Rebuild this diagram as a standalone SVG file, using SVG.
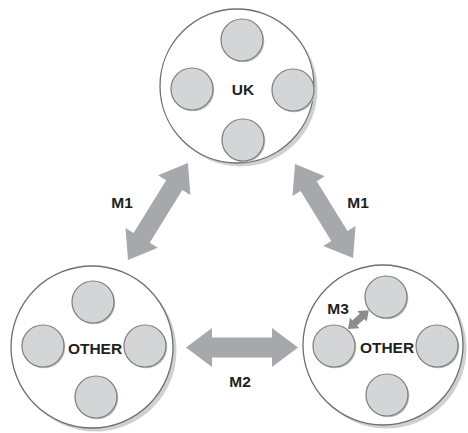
<svg xmlns="http://www.w3.org/2000/svg" width="468" height="433" viewBox="0 0 468 433">
<style>
.shadow{fill:#cfd0d1}
.big{fill:#ffffff;stroke:#6d6e70;stroke-width:1.3}
.sshadow{fill:#c4c5c7}
.small{fill:#d4d5d6;stroke:#7a7b7d;stroke-width:1.2}
.arrow{fill:#a6a8ab}
.arrow3{fill:#8a8c8f}
text{font-family:"Liberation Sans",Arial,sans-serif;font-weight:bold;font-size:15.5px;fill:#231f20;text-anchor:middle}
</style>
<defs>
<g id="sm">
<circle class="sshadow" cx="1.3" cy="1.3" r="21"/>
<circle class="small" cx="0" cy="0" r="21"/>
</g>
</defs>
<g id="node-uk">
<circle class="shadow" cx="240.5" cy="89.5" r="77"/>
<circle class="big" cx="237" cy="86" r="77"/>
<use href="#sm" x="242" y="40"/>
<use href="#sm" x="192" y="89"/>
<use href="#sm" x="293" y="90"/>
<use href="#sm" x="243" y="140"/>
<text x="243" y="95">UK</text>
</g>
<g id="node-other-left">
<circle class="shadow" cx="95.5" cy="350.5" r="81"/>
<circle class="big" cx="92" cy="347" r="81"/>
<use href="#sm" x="93" y="302"/>
<use href="#sm" x="43" y="346"/>
<use href="#sm" x="145" y="346"/>
<use href="#sm" x="96" y="397"/>
<text x="95" y="354">OTHER</text>
</g>
<g id="node-other-right">
<circle class="shadow" cx="386.5" cy="348.5" r="80"/>
<circle class="big" cx="383" cy="345" r="80"/>
<use href="#sm" x="386" y="297"/>
<use href="#sm" x="334" y="346"/>
<use href="#sm" x="437" y="346"/>
<use href="#sm" x="387" y="395"/>
<text x="387" y="353">OTHER</text>
</g>
<g id="connectors">
<polygon class="arrow" transform="translate(128,260) rotate(-58.3)" points="0,0 26,-19 26,-9.5 88,-9.5 88,-19 114,0 88,19 88,9.5 26,9.5 26,19"/>
<polygon class="arrow" transform="translate(295,164) rotate(58.3)" points="0,0 26,-19 26,-9.5 84.5,-9.5 84.5,-19 110.5,0 84.5,19 84.5,9.5 26,9.5 26,19"/>
<polygon class="arrow" transform="translate(186,347.5)" points="0,0 26,-19.5 26,-10 86,-10 86,-19.5 112,0 86,19.5 86,10 26,10 26,19.5"/>
<polygon class="arrow3" transform="translate(348,329) rotate(-42)" points="0,0 9,-7 9,-3.5 19,-3.5 19,-7 28,0 19,7 19,3.5 9,3.5 9,7"/>
</g>
<g id="labels">
<text x="122" y="207.5">M1</text>
<text x="358" y="207.5">M1</text>
<text x="240" y="386.5">M2</text>
<text x="338" y="313.5">M3</text>
</g>
</svg>
